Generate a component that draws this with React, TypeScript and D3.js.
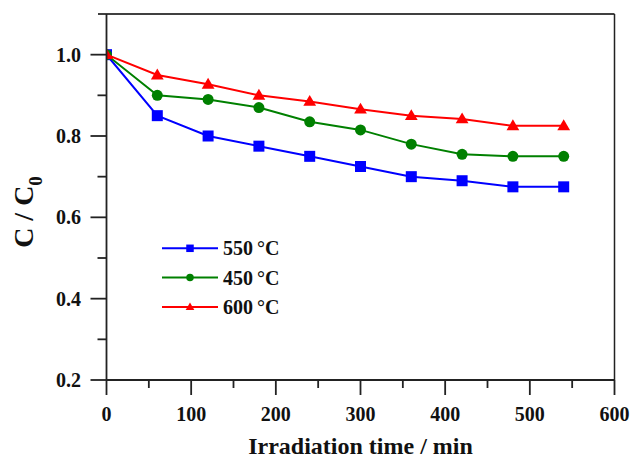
import React from "react";
import * as d3 from "d3";

const times = [0, 60, 120, 180, 240, 300, 360, 420, 480, 540];
const s550 = [1.0, 0.85, 0.80, 0.775, 0.75, 0.725, 0.70, 0.69, 0.675, 0.675];
const s450 = [1.0, 0.90, 0.89, 0.87, 0.835, 0.815, 0.78, 0.755, 0.75, 0.75];
const s600 = [1.0, 0.95, 0.927, 0.90, 0.885, 0.866, 0.85, 0.842, 0.825, 0.825];
const seriesNames = ["550\u2009°C", "450\u2009°C", "600\u2009°C"];
const xMajor = [0, 100, 200, 300, 400, 500, 600];
const xMinor = [50, 150, 250, 350, 450, 550];
const yMajor = [0.2, 0.4, 0.6, 0.8, 1.0];
const yMinor = [0.3, 0.5, 0.7, 0.9];

const W = 633, H = 459;
const L = 106.5, R = 614.5, T = 14, B = 380;
const FONT = "'Liberation Serif', 'Times New Roman', serif";

export default function App() {
  const x = d3.scaleLinear().domain([0, 600]).range([L, R]);
  const y = d3.scaleLinear().domain([0.2, 1.1]).range([B, T]);
  const line = d3.line<[number, number]>().x(d => x(d[0])).y(d => y(d[1]));

  const series = [
    { name: seriesNames[0], vals: s550, color: "#0000ff", shape: "square" },
    { name: seriesNames[1], vals: s450, color: "#008000", shape: "circle" },
    { name: seriesNames[2], vals: s600, color: "#ff0000", shape: "triangle" },
  ];

  const marker = (shape: string, cx: number, cy: number, s: number, color: string, key: any) => {
    if (shape === "square") return <rect key={key} x={cx - s / 2} y={cy - s / 2} width={s} height={s} fill={color} />;
    if (shape === "circle") return <circle key={key} cx={cx} cy={cy} r={s / 2} fill={color} />;
    const h = s * 0.95;
    return <path key={key} d={`M${cx},${cy - h * 0.62} L${cx + s * 0.58},${cy + h * 0.42} L${cx - s * 0.58},${cy + h * 0.42} Z`} fill={color} />;
  };

  return (
    <svg width={W} height={H} style={{ position: "absolute", left: 0, top: 0, background: "#fff" }} fontFamily={FONT}>
      <defs>
        <clipPath id="plotclip"><rect x={L} y={T} width={R - L} height={B - T} /></clipPath>
      </defs>
      <rect x={0} y={0} width={W} height={H} fill="#fff" />
      <g clipPath="url(#plotclip)">
        {series.map((s, si) => (
          <g key={si}>
            <path d={line(times.map((t, i) => [t, s.vals[i]]) as [number, number][]) || ""} fill="none" stroke={s.color} strokeWidth={2} />
            {times.map((t, i) => marker(s.shape, x(t), y(s.vals[i]), 11, s.color, i))}
          </g>
        ))}
      </g>
      {/* frame */}
      <line x1={98} x2={R} y1={T} y2={T} stroke="#000" strokeWidth={1.5} />
      <line x1={R} x2={R} y1={T} y2={B} stroke="#222" strokeWidth={1.5} />
      <line x1={L} x2={L} y1={T} y2={B} stroke="#222" strokeWidth={1.8} />
      <line x1={L} x2={R} y1={B} y2={B} stroke="#222" strokeWidth={1.8} />
      {xMajor.map(v => <line key={"xM" + v} x1={x(v)} x2={x(v)} y1={B} y2={B + 15} stroke="#222" strokeWidth={1.8} />)}
      {xMinor.map(v => <line key={"xm" + v} x1={x(v)} x2={x(v)} y1={B} y2={B + 8} stroke="#222" strokeWidth={1.8} />)}
      {yMajor.map(v => <line key={"yM" + v} x1={L - 16} x2={L} y1={y(v)} y2={y(v)} stroke="#222" strokeWidth={1.8} />)}
      {yMinor.map(v => <line key={"ym" + v} x1={L - 9} x2={L} y1={y(v)} y2={y(v)} stroke="#222" strokeWidth={1.8} />)}
      {xMajor.map(v => (
        <text key={"xl" + v} x={x(v)} y={421} textAnchor="middle" fontSize={20} fontWeight="bold" fill="#111">{v}</text>
      ))}
      {yMajor.map(v => (
        <text key={"yl" + v} x={81} y={y(v) + 7} textAnchor="end" fontSize={20} fontWeight="bold" fill="#111">{v.toFixed(1)}</text>
      ))}
      <text x={(L + R) / 2} y={454} textAnchor="middle" fontSize={24} fontWeight="bold" fill="#111">Irradiation time / min</text>
      <text transform={`translate(33,${212}) rotate(-90)`} textAnchor="middle" fontSize={28} fontWeight="bold" fill="#111">
        C / C<tspan fontSize={19} dy={9}>0</tspan>
      </text>
      {/* legend */}
      {series.map((s, i) => {
        const ly = 248.3 + i * 29.3;
        return (
          <g key={"lg" + i}>
            <line x1={162} x2={218} y1={ly} y2={ly} stroke={s.color} strokeWidth={2} />
            {marker(s.shape, 190, ly, 7.5, s.color, "m")}
            <text x={223} y={ly + 7} fontSize={20} fontWeight="bold" fill="#111">{s.name}</text>
          </g>
        );
      })}
    </svg>
  );
}
